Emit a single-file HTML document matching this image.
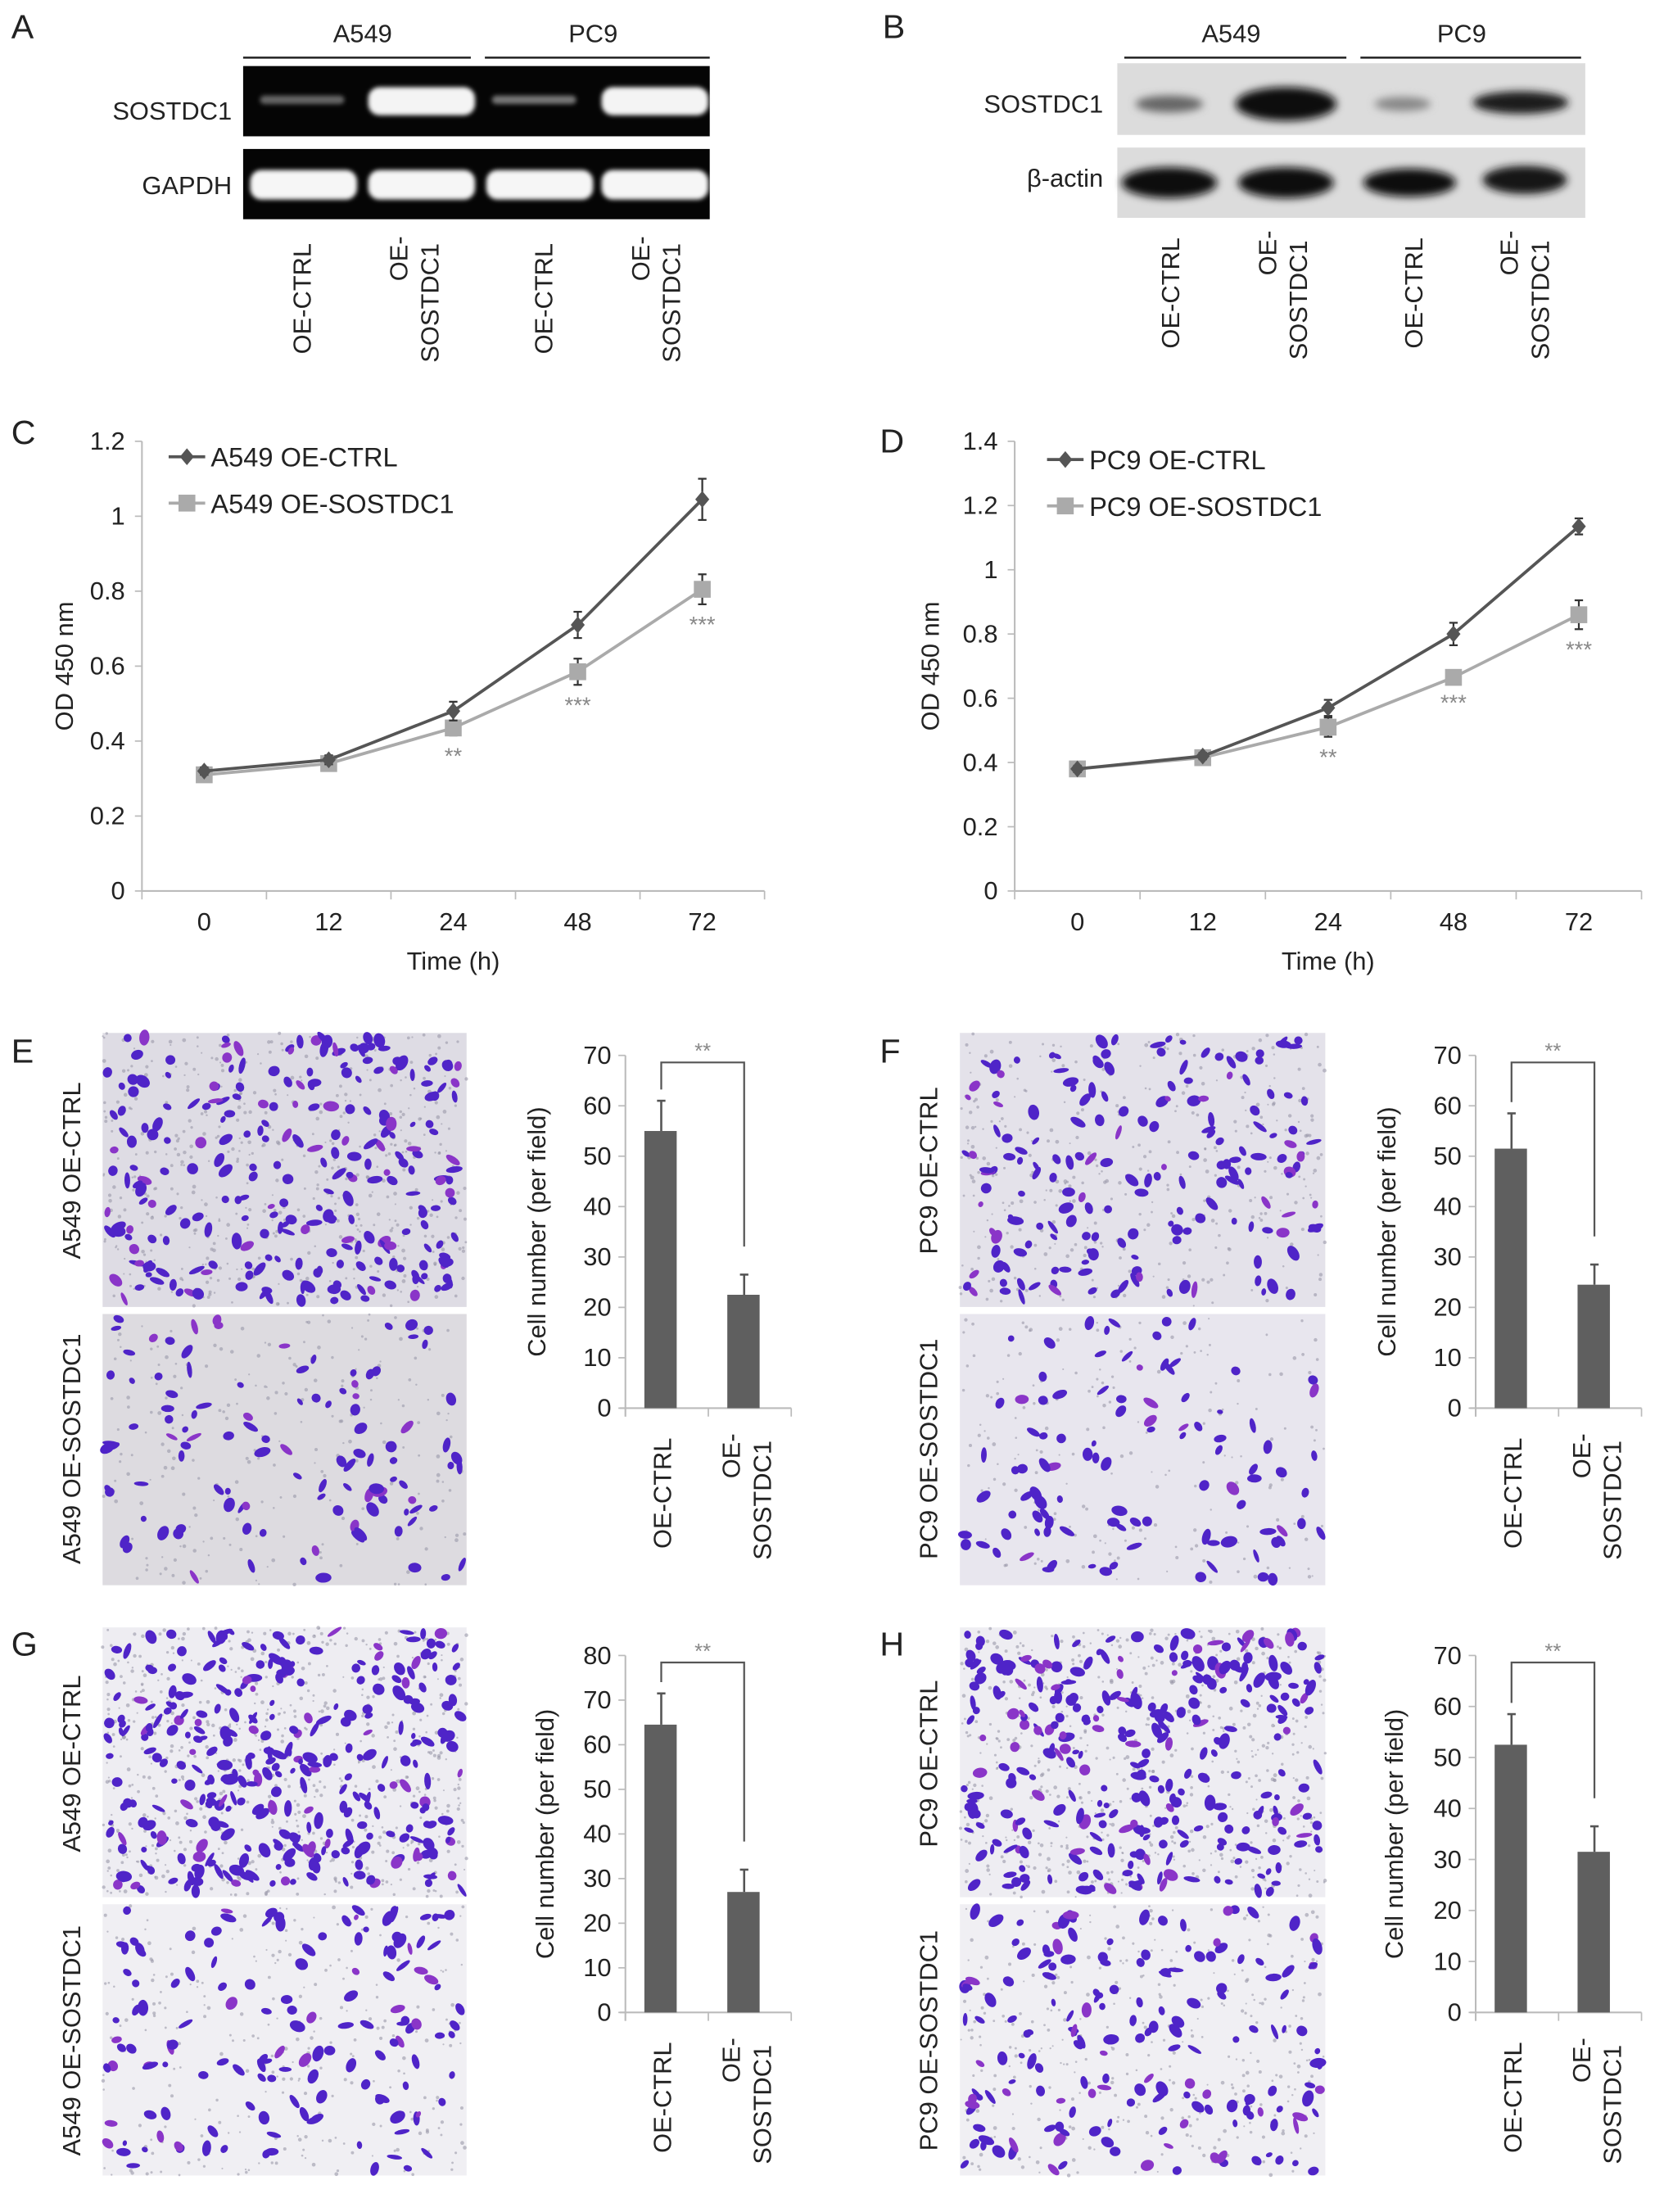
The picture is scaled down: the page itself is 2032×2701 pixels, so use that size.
<!DOCTYPE html>
<html><head><meta charset="utf-8">
<style>
html,body{margin:0;padding:0;background:#fff;}
svg{display:block;}
text{font-family:"Liberation Sans",sans-serif;fill:#222;}
.n{font-family:"Liberation Sans Narrow","Liberation Sans",sans-serif;}
</style></head>
<body>
<svg id="fig" xmlns="http://www.w3.org/2000/svg" width="2032" height="2701" viewBox="0 0 1184 1574" preserveAspectRatio="none">
<defs>
<filter id="blur2"><feGaussianBlur stdDeviation="3"/></filter>
<filter id="blur1"><feGaussianBlur stdDeviation="1.5"/></filter>
</defs>
<!-- Panel A -->
<g>
<text x="8" y="27" font-size="24">A</text>
<text x="258" y="30" font-size="18" text-anchor="middle" class="n">A549</text>
<line x1="173" y1="41" x2="335" y2="41" stroke="#222" stroke-width="1.5"/>
<text x="422" y="30" font-size="18" text-anchor="middle" class="n">PC9</text>
<line x1="345" y1="41" x2="505" y2="41" stroke="#222" stroke-width="1.5"/>
<rect x="173" y="47" width="332" height="50" fill="#050505"/>
<rect x="173" y="106" width="332" height="50" fill="#050505"/>
<g filter="url(#blur1)">
<rect x="185" y="68" width="60" height="6" rx="3" fill="#666"/>
<rect x="262" y="62" width="76" height="20" rx="8" fill="#f4f4f4"/>
<rect x="350" y="68" width="60" height="6" rx="3" fill="#777"/>
<rect x="428" y="62" width="76" height="20" rx="8" fill="#f4f4f4"/>
<rect x="178" y="121" width="76" height="21" rx="8" fill="#f6f6f6"/>
<rect x="262" y="121" width="76" height="21" rx="8" fill="#f6f6f6"/>
<rect x="346" y="121" width="76" height="21" rx="8" fill="#f6f6f6"/>
<rect x="428" y="121" width="76" height="21" rx="8" fill="#f6f6f6"/>
</g>
<text x="165" y="85" font-size="18" text-anchor="end" class="n">SOSTDC1</text>
<text x="165" y="138" font-size="18" text-anchor="end" class="n">GAPDH</text>
<g font-size="18">
<text transform="translate(221,252) rotate(-90)">OE-CTRL</text>
<text transform="translate(290,200) rotate(-90)">OE-</text>
<text transform="translate(312,258) rotate(-90)">SOSTDC1</text>
<text transform="translate(393,252) rotate(-90)">OE-CTRL</text>
<text transform="translate(462,200) rotate(-90)">OE-</text>
<text transform="translate(484,258) rotate(-90)">SOSTDC1</text>
</g>
</g>
<!-- Panel B -->
<g>
<text x="628" y="27" font-size="24">B</text>
<text x="876" y="30" font-size="18" text-anchor="middle" class="n">A549</text>
<line x1="800" y1="41" x2="958" y2="41" stroke="#222" stroke-width="1.5"/>
<text x="1040" y="30" font-size="18" text-anchor="middle" class="n">PC9</text>
<line x1="968" y1="41" x2="1125" y2="41" stroke="#222" stroke-width="1.5"/>
<rect x="795" y="45" width="333" height="51" fill="#dcdcdc"/>
<rect x="795" y="105" width="333" height="50" fill="#dcdcdc"/>
<g filter="url(#blur2)">
<ellipse cx="832" cy="74" rx="24" ry="6" fill="#666"/>
<ellipse cx="915" cy="74" rx="36" ry="12" fill="#111"/>
<ellipse cx="998" cy="74" rx="20" ry="5" fill="#888"/>
<ellipse cx="1082" cy="73" rx="34" ry="8" fill="#1a1a1a"/>
<ellipse cx="832" cy="130" rx="34" ry="11" fill="#111"/>
<ellipse cx="915" cy="130" rx="34" ry="11" fill="#111"/>
<ellipse cx="1003" cy="130" rx="33" ry="10" fill="#111"/>
<ellipse cx="1085" cy="128" rx="30" ry="10" fill="#151515"/>
</g>
<text x="785" y="80" font-size="18" text-anchor="end" class="n">SOSTDC1</text>
<text x="785" y="133" font-size="18" text-anchor="end" class="n">β-actin</text>
<g font-size="18">
<text transform="translate(839,248) rotate(-90)">OE-CTRL</text>
<text transform="translate(908,196) rotate(-90)">OE-</text>
<text transform="translate(930,256) rotate(-90)">SOSTDC1</text>
<text transform="translate(1012,248) rotate(-90)">OE-CTRL</text>
<text transform="translate(1080,196) rotate(-90)">OE-</text>
<text transform="translate(1102,256) rotate(-90)">SOSTDC1</text>
</g>
</g>
<text x="8" y="316" font-size="24">C</text>
<text x="626" y="322" font-size="24">D</text>
<text x="8" y="756" font-size="24">E</text>
<text x="626" y="756" font-size="24">F</text>
<text x="8" y="1178" font-size="24">G</text>
<text x="626" y="1178" font-size="24">H</text>
<g id="layer"></g>
</svg>
<script>
// ---- Line chart data (C, D) ----
const timeLabels = ["0","12","24","48","72"];
const cCtrl = [0.32,0.35,0.48,0.71,1.045];
const cCtrlErr = [0.01,0.012,0.025,0.035,0.055];
const cSos = [0.31,0.34,0.435,0.585,0.805];
const cSosErr = [0.01,0.012,0.02,0.035,0.04];
const cStars = ["","","**","***","***"];
const cTicks = [0,0.2,0.4,0.6,0.8,1,1.2];
const dCtrl = [0.38,0.42,0.57,0.80,1.135];
const dCtrlErr = [0.01,0.01,0.025,0.035,0.025];
const dSos = [0.38,0.415,0.51,0.665,0.86];
const dSosErr = [0.01,0.01,0.03,0.015,0.045];
const dStars = ["","","**","***","***"];
const dTicks = [0,0.2,0.4,0.6,0.8,1,1.2,1.4];
// ---- Bar chart data (E-H) ----
const barCats = ["OE-CTRL","OE-SOSTDC1"];
const eVals = [55,22.5]; const eErr = [6,4];
const fVals = [51.5,24.5]; const fErr = [7,4];
const gVals = [64.5,27]; const gErr = [7,5];
const hVals = [52.5,31.5]; const hErr = [6,5];
const eTicks = [0,10,20,30,40,50,60,70];
const fTicks = [0,10,20,30,40,50,60,70];
const gTicks = [0,10,20,30,40,50,60,70,80];
const hTicks = [0,10,20,30,40,50,60,70];

const NS = "http://www.w3.org/2000/svg";
const layer = document.getElementById('layer');
function el(tag, attrs, parent, txt){
  const e = document.createElementNS(NS, tag);
  for (const k in attrs) e.setAttribute(k, attrs[k]);
  if (txt !== undefined) e.textContent = txt;
  (parent||layer).appendChild(e);
  return e;
}

function lineChart(o){
  const g = el('g', {});
  
  
  const n = timeLabels.length, bw = (o.x1 - o.x0)/n;
  const X = i => o.x0 + bw*(i+0.5);
  const Y = v => o.yb - (v/o.max)*(o.yb - o.yt);
  el('line',{x1:o.x0,y1:o.yt,x2:o.x0,y2:o.yb,stroke:'#bbb','stroke-width':1.2},g);
  el('line',{x1:o.x0,y1:o.yb,x2:o.x1,y2:o.yb,stroke:'#bbb','stroke-width':1.2},g);
  o.ticks.forEach(t=>{
    el('line',{x1:o.x0-5,y1:Y(t),x2:o.x0,y2:Y(t),stroke:'#bbb'},g);
    const tl = el('text',{x:o.x0-12,y:Y(t)+6,'font-size':18,'text-anchor':'end','class':'n'},g,String(t));
    
    
  });
  for(let i=0;i<=n;i++) el('line',{x1:o.x0+bw*i,y1:o.yb,x2:o.x0+bw*i,y2:o.yb+6,stroke:'#bbb'},g);
  timeLabels.forEach((t,i)=>{
    const tl = el('text',{x:X(i),y:o.yb+28,'font-size':18,'text-anchor':'middle','class':'n'},g,t);
    
    
  });
  const xt = el('text',{x:(o.x0+o.x1)/2,y:o.yb+56,'font-size':18,'text-anchor':'middle','class':'n'},g,'Time (h)');
  
  
  const yt = el('text',{transform:`translate(${o.ytx},${(o.yt+o.yb)/2}) rotate(-90)`,'font-size':18,'text-anchor':'middle'},g,'OD 450 nm');
  
  
  const series = [
    {v:o.sos,e:o.sosE,c:'#aaaaaa',m:'sq',name:'sostdc1-series'},
    {v:o.ctrl,e:o.ctrlE,c:'#555555',m:'di',name:'ctrl-series'}];
  series.forEach(s=>{
    const sg = el('g',{},g);
    
    
    el('polyline',{points:s.v.map((v,i)=>X(i)+','+Y(v)).join(' '),fill:'none',stroke:s.c,'stroke-width':2.2},sg);
    s.v.forEach((v,i)=>{
      const x=X(i);
      el('line',{x1:x,y1:Y(v+s.e[i]),x2:x,y2:Y(v-s.e[i]),stroke:'#333','stroke-width':1.3},sg);
      el('line',{x1:x-3,y1:Y(v+s.e[i]),x2:x+3,y2:Y(v+s.e[i]),stroke:'#333','stroke-width':1.3},sg);
      el('line',{x1:x-3,y1:Y(v-s.e[i]),x2:x+3,y2:Y(v-s.e[i]),stroke:'#333','stroke-width':1.3},sg);
      let m;
      if(s.m==='sq') m = el('rect',{x:x-6,y:Y(v)-6,width:12,height:12,fill:s.c},sg);
      else m = el('polygon',{points:`${x},${Y(v)-6} ${x+5},${Y(v)} ${x},${Y(v)+6} ${x-5},${Y(v)}`,fill:s.c},sg);
      
      
    });
  });
  o.stars.forEach((s,i)=>{
    if(!s) return;
    const v=o.sos[i]-o.sosE[i];
    const st = el('text',{x:X(i),y:Y(v)+20,'font-size':16,'text-anchor':'middle',fill:'#888'},g,s);
    st.style.fill='#888';
    
    
  });
  // legend
  const lg = el('g',{},g);
  
  
  const lx=o.lx, ly=o.ly;
  el('line',{x1:lx,y1:ly,x2:lx+26,y2:ly,stroke:'#555','stroke-width':2.2},lg);
  el('polygon',{points:`${lx+13},${ly-6} ${lx+18},${ly} ${lx+13},${ly+6} ${lx+8},${ly}`,fill:'#555'},lg);
  const l1 = el('text',{x:lx+30,y:ly+7,'font-size':19,'class':'n'},lg,o.l1);
  
  
  el('line',{x1:lx,y1:ly+33,x2:lx+26,y2:ly+33,stroke:'#aaa','stroke-width':2.2},lg);
  el('rect',{x:lx+7,y:ly+27,width:12,height:12,fill:'#aaa'},lg);
  const l2 = el('text',{x:lx+30,y:ly+40,'font-size':19,'class':'n'},lg,o.l2);
  
  
}

lineChart({name:'chart-c',x0:101,x1:544,yt:314,yb:634,max:1.2,ticks:cTicks,ctrl:cCtrl,ctrlE:cCtrlErr,sos:cSos,sosE:cSosErr,stars:cStars,lx:120,ly:325,l1:'A549 OE-CTRL',l2:'A549 OE-SOSTDC1',ytx:52});
lineChart({name:'chart-d',x0:722,x1:1168,yt:314,yb:634,max:1.4,ticks:dTicks,ctrl:dCtrl,ctrlE:dCtrlErr,sos:dSos,sosE:dSosErr,stars:dStars,lx:745,ly:327,l1:'PC9 OE-CTRL',l2:'PC9 OE-SOSTDC1',ytx:668});

// seeded pseudo-random for micrograph texture (decorative)
let seed = 12345;
function rnd(){ seed = (seed*1103515245+12345) % 2147483648; return seed/2147483648; }
function micro(x,y,w,h,count,name,bg){
  const g = el('g',{});
  
  
  el('rect',{x:x,y:y,width:w,height:h,fill:bg},g);
  for(let i=0;i<count*2;i++){
    el('circle',{cx:x+rnd()*w,cy:y+rnd()*h,r:0.6+rnd()*0.8,fill:'#9a98a8',opacity:0.6},g);
  }
  for(let i=0;i<count;i++){
    const cx=x+3+rnd()*(w-6), cy=y+3+rnd()*(h-6);
    const rx=2+rnd()*4, ry=1.5+rnd()*2.5, a=rnd()*180;
    const col = rnd()<0.15 ? '#8a35c8' : '#4f24c8';
    el('ellipse',{cx:cx,cy:cy,rx:rx,ry:ry,fill:col,transform:`rotate(${a} ${cx} ${cy})`},g);
  }
}
micro(73,735,259,195,260,'micrograph-e-ctrl','#dedce4');
micro(73,935,259,193,110,'micrograph-e-sostdc1','#dddbe0');
micro(683,735,260,195,180,'micrograph-f-ctrl','#e4e2ea');
micro(683,935,260,193,100,'micrograph-f-sostdc1','#e8e6ee');
micro(73,1158,259,192,330,'micrograph-g-ctrl','#eeedf2');
micro(73,1355,259,193,140,'micrograph-g-sostdc1','#f0eff3');
micro(683,1158,260,192,300,'micrograph-h-ctrl','#eeedf2');
micro(683,1355,260,193,170,'micrograph-h-sostdc1','#f0eff3');
[[73,1158],[73,1355],[683,1158],[683,1355]].forEach(()=>{});

function labelRot(x,cy,txt){
  const t = el('text',{transform:`translate(${x},${cy}) rotate(-90)`,'font-size':18,'text-anchor':'middle'},layer,txt);
  
  
}
labelRot(57,833,'A549 OE-CTRL'); labelRot(57,1031,'A549 OE-SOSTDC1');
labelRot(667,833,'PC9 OE-CTRL'); labelRot(667,1031,'PC9 OE-SOSTDC1');
labelRot(57,1255,'A549 OE-CTRL'); labelRot(57,1452,'A549 OE-SOSTDC1');
labelRot(667,1255,'PC9 OE-CTRL'); labelRot(667,1452,'PC9 OE-SOSTDC1');

function barChart(o){
  const g = el('g',{});
  
  
  const n = barCats.length, bw = (o.x1-o.x0)/n;
  const X = i => o.x0 + bw*(i+0.5) - 4;
  const Y = v => o.yb - (v/o.max)*(o.yb-o.yt);
  el('line',{x1:o.x0,y1:o.yt,x2:o.x0,y2:o.yb+6,stroke:'#bbb','stroke-width':1.2},g);
  el('line',{x1:o.x0-4,y1:o.yb,x2:o.x1,y2:o.yb,stroke:'#bbb','stroke-width':1.2},g);
  for(let i=0;i<=n;i++) el('line',{x1:o.x0+bw*i,y1:o.yb,x2:o.x0+bw*i,y2:o.yb+6,stroke:'#bbb'},g);
  o.ticks.forEach(t=>{
    el('line',{x1:o.x0-5,y1:Y(t),x2:o.x0,y2:Y(t),stroke:'#bbb'},g);
    const tl = el('text',{x:o.x0-10,y:Y(t)+6,'font-size':18,'text-anchor':'end','class':'n'},g,String(t));
    
    
  });
  const yt = el('text',{transform:`translate(${o.ytx},${(o.yt+o.yb)/2}) rotate(-90)`,'font-size':18,'text-anchor':'middle'},g,'Cell number (per field)');
  
  
  o.vals.forEach((v,i)=>{
    const b = el('rect',{x:X(i)-12,y:Y(v),width:23,height:o.yb-Y(v),fill:'#5f5f5f'},g);
    
    
    const x=X(i), t=Y(v+o.err[i]);
    el('line',{x1:x,y1:Y(v),x2:x,y2:t,stroke:'#555','stroke-width':1.5},g);
    el('line',{x1:x-3,y1:t,x2:x+3,y2:t,stroke:'#555','stroke-width':1.5},g);
  });
  // significance bracket
  const by = o.yt+5;
  const bx0 = X(0), bx1 = X(1);
  const br = el('polyline',{points:`${bx0},${Y(o.vals[0]+o.err[0])-8} ${bx0},${by} ${bx1},${by} ${bx1},${Y(o.vals[1]+o.err[1])-20}`,fill:'none',stroke:'#555','stroke-width':1.3},g);
  
  
  const st = el('text',{x:(bx0+bx1)/2,y:by-3,'font-size':15,'text-anchor':'middle'},g,'**');
  st.style.fill='#888';
  
  
  const a = el('text',{transform:`translate(${X(0)+7},${o.yb+100}) rotate(-90)`,'font-size':18},g,'OE-CTRL');
  
  
  const b1 = el('text',{transform:`translate(${X(1)-3},${o.yb+50}) rotate(-90)`,'font-size':18},g,'OE-');
  
  
  const b2 = el('text',{transform:`translate(${X(1)+19},${o.yb+108}) rotate(-90)`,'font-size':18},g,'SOSTDC1');
  
  
}
barChart({name:'bar-chart-e',x0:445,x1:563,yt:751,yb:1002,max:70,ticks:eTicks,vals:eVals,err:eErr,ytx:388});
barChart({name:'bar-chart-f',x0:1050,x1:1168,yt:751,yb:1002,max:70,ticks:fTicks,vals:fVals,err:fErr,ytx:993});
barChart({name:'bar-chart-g',x0:445,x1:563,yt:1178,yb:1432,max:80,ticks:gTicks,vals:gVals,err:gErr,ytx:394});
barChart({name:'bar-chart-h',x0:1050,x1:1168,yt:1178,yb:1432,max:70,ticks:hTicks,vals:hVals,err:hErr,ytx:998});
</script>
</body></html>
